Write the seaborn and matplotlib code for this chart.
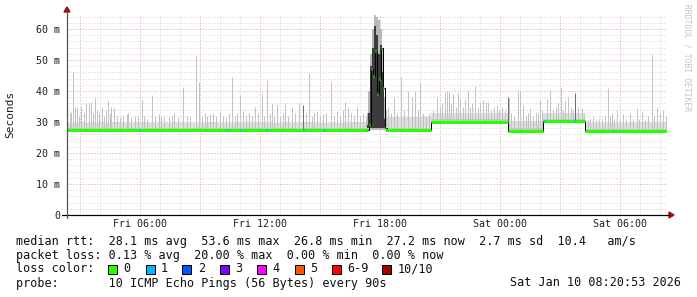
import numpy as np
import pandas as pd
import matplotlib
matplotlib.use("Agg")
import matplotlib.pyplot as plt
import seaborn as sns
from matplotlib.patches import Rectangle, Polygon
from matplotlib.lines import Line2D

# ---------------- data (hours since Fri 00:00, values in ms) ----------------
seg_start = [2.35, 18.30, 20.55, 24.40, 26.15, 28.25]
seg_end = [17.30, 20.55, 24.40, 26.15, 28.25, 32.35]
seg_ms = [27.3, 27.3, 30.1, 27.2, 30.2, 27.0]
haze_ms = [29.8, 31.5, 33.0, 30.3, 33.0, 29.6]

burst_t = [17.30, 17.35, 17.45, 17.55, 17.65, 17.75, 17.85, 17.95, 18.05, 18.15, 18.25, 18.35]
burst_light = [31, 33, 40, 52, 60, 64.5, 64, 63, 60, 54, 38, 34]
burst_dark = [28, 29, 33, 48, 54, 61, 58, 52, 55, 46, 31, 28]
burst_med = [27.3, 27.4, 29, 47, 45, 53, 39, 44, 54, 41, 28, 27.3]

spike_t = [2.50, 2.55, 2.65, 2.75, 2.85, 2.95, 3.05, 3.20, 3.30, 3.45, 3.55, 3.65, 3.75,
           3.85, 3.95, 4.10, 4.20, 4.30, 4.40, 4.50, 4.55, 4.70, 4.85, 5.00, 5.15, 5.35,
           5.40, 5.55, 5.75, 5.90, 6.08, 6.20, 6.35, 6.60, 6.75, 6.95, 7.05, 7.20, 7.45,
           7.60, 7.70, 7.90, 8.15, 8.35, 8.50, 8.80, 8.95, 9.10, 9.25, 9.35, 9.50, 9.65,
           9.80, 10.00, 10.15, 10.30, 10.45, 10.60, 10.75, 10.85, 11.00, 11.15, 11.30,
           11.45, 11.60, 11.75, 11.90, 12.10, 12.20, 12.35, 12.50, 12.60, 12.70, 12.85,
           13.00, 13.15, 13.25, 13.40, 13.60, 13.75, 13.95, 14.15, 14.30, 14.45, 14.60,
           14.70, 14.85, 15.00, 15.15, 15.30, 15.55, 15.70, 15.85, 16.00, 16.15, 16.25,
           16.40, 16.55, 16.70, 16.85, 17.00, 17.15, 17.30,
           18.40, 18.55, 18.70, 18.85, 19.05, 19.20, 19.40, 19.60, 19.75, 19.90, 20.00,
           20.15, 20.30, 20.45,
           20.65, 20.85, 21.00, 21.10, 21.25, 21.35, 21.45, 21.55, 21.65, 21.80, 21.90,
           22.00, 22.15, 22.25, 22.40, 22.50, 22.60, 22.75, 22.90, 23.00, 23.15, 23.30,
           23.40, 23.55, 23.70, 23.85, 23.95, 24.10, 24.25,
           24.45, 24.55, 24.70, 24.90, 25.00, 25.15, 25.30, 25.40, 25.50, 25.65, 25.80,
           25.90, 26.00, 26.10,
           26.35, 26.50, 26.65, 26.80, 26.90, 27.05, 27.15, 27.25, 27.40, 27.55, 27.65,
           27.75, 27.90, 28.10, 28.20,
           28.40, 28.50, 28.65, 28.80, 28.95, 29.10, 29.25, 29.40, 29.50, 29.60, 29.70,
           29.85, 30.00, 30.15, 30.30, 30.50, 30.65, 30.85, 30.95, 31.10, 31.25, 31.40,
           31.60, 31.70, 31.85, 32.00, 32.15, 32.30]
spike_ms = [33, 33.3, 46, 35, 35, 32, 35, 33, 36, 36, 36.5, 33, 37.8,
            34, 33, 35, 32, 34, 37, 33, 35, 34.4, 32, 31.5, 32, 32.6,
            33, 31.5, 32, 32, 37, 32, 31, 38.7, 32, 32.5, 31.5, 31.5, 31.5,
            32, 33, 31.5, 41.4, 32, 31.5, 51.3, 43, 32, 33, 32, 32.5, 33,
            32, 33.5, 32, 31.5, 33, 44.6, 32, 33, 38.7, 33.5, 32,
            33, 32, 35, 33, 39, 32, 43.5, 33, 36, 32, 35.5,
            32, 33, 36, 32, 35, 33, 36, 35.5, 33, 45.7, 32,
            33, 33.5, 32, 32.5, 33, 43, 32, 33.5, 32, 34, 36.5,
            35, 33, 32, 35, 32, 33, 32,
            35, 33, 38, 33, 44.5, 34, 40, 38, 40, 34, 42.5,
            33, 32, 33,
            34, 38.2, 35, 36, 39.8, 40, 39.8, 36, 39, 35, 39.4,
            37.5, 35, 37.5, 40, 35, 36, 41.6, 35, 36, 37, 36.5,
            36.5, 34, 35, 35.5, 34, 35, 34,
            37.6, 33, 32, 40.3, 40, 35.5, 32, 33, 34.5, 32, 33,
            33, 37, 34,
            37.5, 40.3, 34, 35, 36, 40.9, 34, 37, 38, 35, 34,
            39, 35, 34.5, 33,
            30.5, 31, 31.5, 30.5, 31, 31, 32, 40.9, 32, 33, 31,
            34, 31, 32.5, 31, 33, 31, 34.5, 31, 33.5, 31, 32,
            52, 32, 35, 33, 34, 32]

dark_t = [14.15, 24.40, 27.75]
dark_ms = [35.5, 38.0, 39.5]

loss1_t = [5.93, 10.33, 11.00, 12.30, 14.13, 15.13, 26.20, 27.70, 29.63]

tick_hours = [6, 12, 18, 24, 30]
tick_labels = ["Fri 06:00", "Fri 12:00", "Fri 18:00", "Sat 00:00", "Sat 06:00"]
y_ticks = [0, 10, 20, 30, 40, 50, 60]
y_labels = ["0", "10 m", "20 m", "30 m", "40 m", "50 m", "60 m"]

loss_names = ["0", "1", "2", "3", "4", "5", "6-9", "10/10"]
loss_colors = ["#26ff00", "#00b8ff", "#0059ff", "#7e00ff", "#ff00ff", "#ff5500",
               "#ff0000", "#a10000"]

legend_lines = [
    "median rtt:  28.1 ms avg  53.6 ms max  26.8 ms min  27.2 ms now  2.7 ms sd  10.4   am/s",
    "packet loss: 0.13 % avg  20.00 % max  0.00 % min  0.00 % now",
    "loss color:",
    "probe:       10 ICMP Echo Pings (56 Bytes) every 90s",
]
stamp = "Sat Jan 10 08:20:53 2026"

# ---------------- figure ----------------
sns.set_theme(style="white")
plt.rcParams['font.family'] = ['DejaVu Sans Mono']

W, H = 697, 297
fig = plt.figure(figsize=(W / 100, H / 100), dpi=100)
fig.patch.set_facecolor("white")


def fx(p):
    return p / W


def fy(p):
    return 1 - p / H


ax = fig.add_axes([fx(67), fy(215), 600 / W, 201.5 / H])
ax.set_facecolor("white")
ax.set_xlim(2.35, 32.35)
ax.set_ylim(0, 65)

px = 0.72  # one pixel in points


def med_at(t):
    t = np.asarray(t, dtype=float)
    idx = np.clip(np.searchsorted(seg_start, t, side="right") - 1, 0, len(seg_ms) - 1)
    return np.asarray(seg_ms)[idx]


# haze
for s, e, m, hz in zip(seg_start, seg_end, seg_ms, haze_ms):
    ax.fill_between([s, e], [m, m], [hz, hz], color="#dedede", lw=0, zorder=2)
    ax.fill_between([s, e], [m, m], [m + 0.9, m + 0.9], color="#c6c6c6", lw=0, zorder=2.1)

# spikes
ax.vlines(spike_t, med_at(spike_t), spike_ms, colors="#c2c2c2", lw=px, zorder=2.5)
ax.vlines(dark_t, med_at(dark_t), dark_ms, colors="#707070", lw=px, zorder=2.6)

# burst smoke
ax.fill_between(burst_t, 27.3, burst_light, step="mid", color="#b8b8b8", lw=0, zorder=2.7)
ax.fill_between(burst_t, 28.0, burst_dark, step="mid", color="#3c3c3c", lw=0, zorder=2.8)

# median black step line through seaborn
t_line, v_line = [], []
for i, (s, e, m) in enumerate(zip(seg_start, seg_end, seg_ms)):
    t_line += [s]
    v_line += [m]
    if i == 0:
        t_line += list(burst_t)
        v_line += list(burst_med)
t_line.append(seg_end[-1])
v_line.append(seg_ms[-1])
med_df = pd.DataFrame({"t": t_line, "ms": v_line})
sns.lineplot(data=med_df, x="t", y="ms", drawstyle="steps-post", color="black",
             lw=px, ax=ax, zorder=3, estimator=None, sort=False)

# green median (loss 0)
ax.hlines(seg_ms, seg_start, seg_end, colors=loss_colors[0], lw=3 * px, zorder=3.5)
ax.hlines(burst_med, np.array(burst_t), np.array(burst_t) + 0.06,
          colors=loss_colors[0], lw=3 * px, zorder=3.5)
ax.hlines(med_at(loss1_t), np.array(loss1_t), np.array(loss1_t) + 0.07,
          colors=loss_colors[1], lw=3 * px, zorder=3.6)

# grid
ax.set_xticks(np.arange(3, 33, 3))
ax.set_xticks(np.arange(3, 33, 1), minor=True)
ax.set_xticklabels([tick_labels[tick_hours.index(h)] if h in tick_hours else ""
                    for h in np.arange(3, 33, 3)])
ax.set_yticks(y_ticks)
ax.set_yticklabels(y_labels)
ax.set_yticks(np.arange(0, 65, 2), minor=True)
ax.grid(which="minor", color="#d2d2d2", ls=(0, (1, 2)), lw=px)
ax.grid(which="major", color="#e59a9a", ls=(0, (1, 2)), lw=px)
ax.set_axisbelow(True)
ax.tick_params(axis="both", which="both", length=0, labelsize=7.2, colors="#202020")
ax.tick_params(axis="x", pad=3)
ax.tick_params(axis="y", pad=5)
ax.set_xlabel("")
ax.set_ylabel("")
for sp in ax.spines.values():
    sp.set_visible(False)

# axes lines + arrows
fig.add_artist(Line2D([fx(62), fx(669)], [fy(215), fy(215)], color="black", lw=px * 1.2))
fig.add_artist(Line2D([fx(67), fx(67)], [fy(218), fy(11)], color="#505050", lw=px * 1.2))
fig.add_artist(Polygon([[fx(64), fy(12)], [fx(70), fy(12)], [fx(67), fy(7)]],
                       closed=True, color="#9a1010", transform=fig.transFigure))
fig.add_artist(Polygon([[fx(669), fy(212)], [fx(669), fy(218)], [fx(674), fy(215)]],
                       closed=True, color="#9a1010", transform=fig.transFigure))

# texts
fig.text(fx(10), fy(114), "Seconds", rotation=90, ha="center", va="center",
         fontsize=8, color="#202020")
fig.text(fx(687), fy(4), "RRDTOOL / TOBI OETIKER", rotation=270, ha="center", va="top",
         fontsize=5.8, color="#c4c4c4")

line_y = [242, 255.5, 269, 283]
for txt, yy in zip(legend_lines, line_y):
    fig.text(fx(16), fy(yy), txt, ha="left", va="center", fontsize=8.45, color="#101010")
fig.text(fx(681), fy(line_y[3]), stamp, ha="right", va="center", fontsize=8.45,
         color="#101010")

box_x = [108, 145.5, 182.4, 219.8, 257.2, 294.6, 331.5, 381.8]
for bx, name, col in zip(box_x, loss_names, loss_colors):
    fig.add_artist(Rectangle((fx(bx), fy(273.5)), 9 / W, 9 / H, transform=fig.transFigure,
                             facecolor=col, edgecolor="black", lw=px))
    fig.text(fx(bx + 15.5), fy(line_y[2]), name, ha="left", va="center", fontsize=8.45,
             color="#101010")

fig.savefig("out.png", dpi=100, facecolor="white")
